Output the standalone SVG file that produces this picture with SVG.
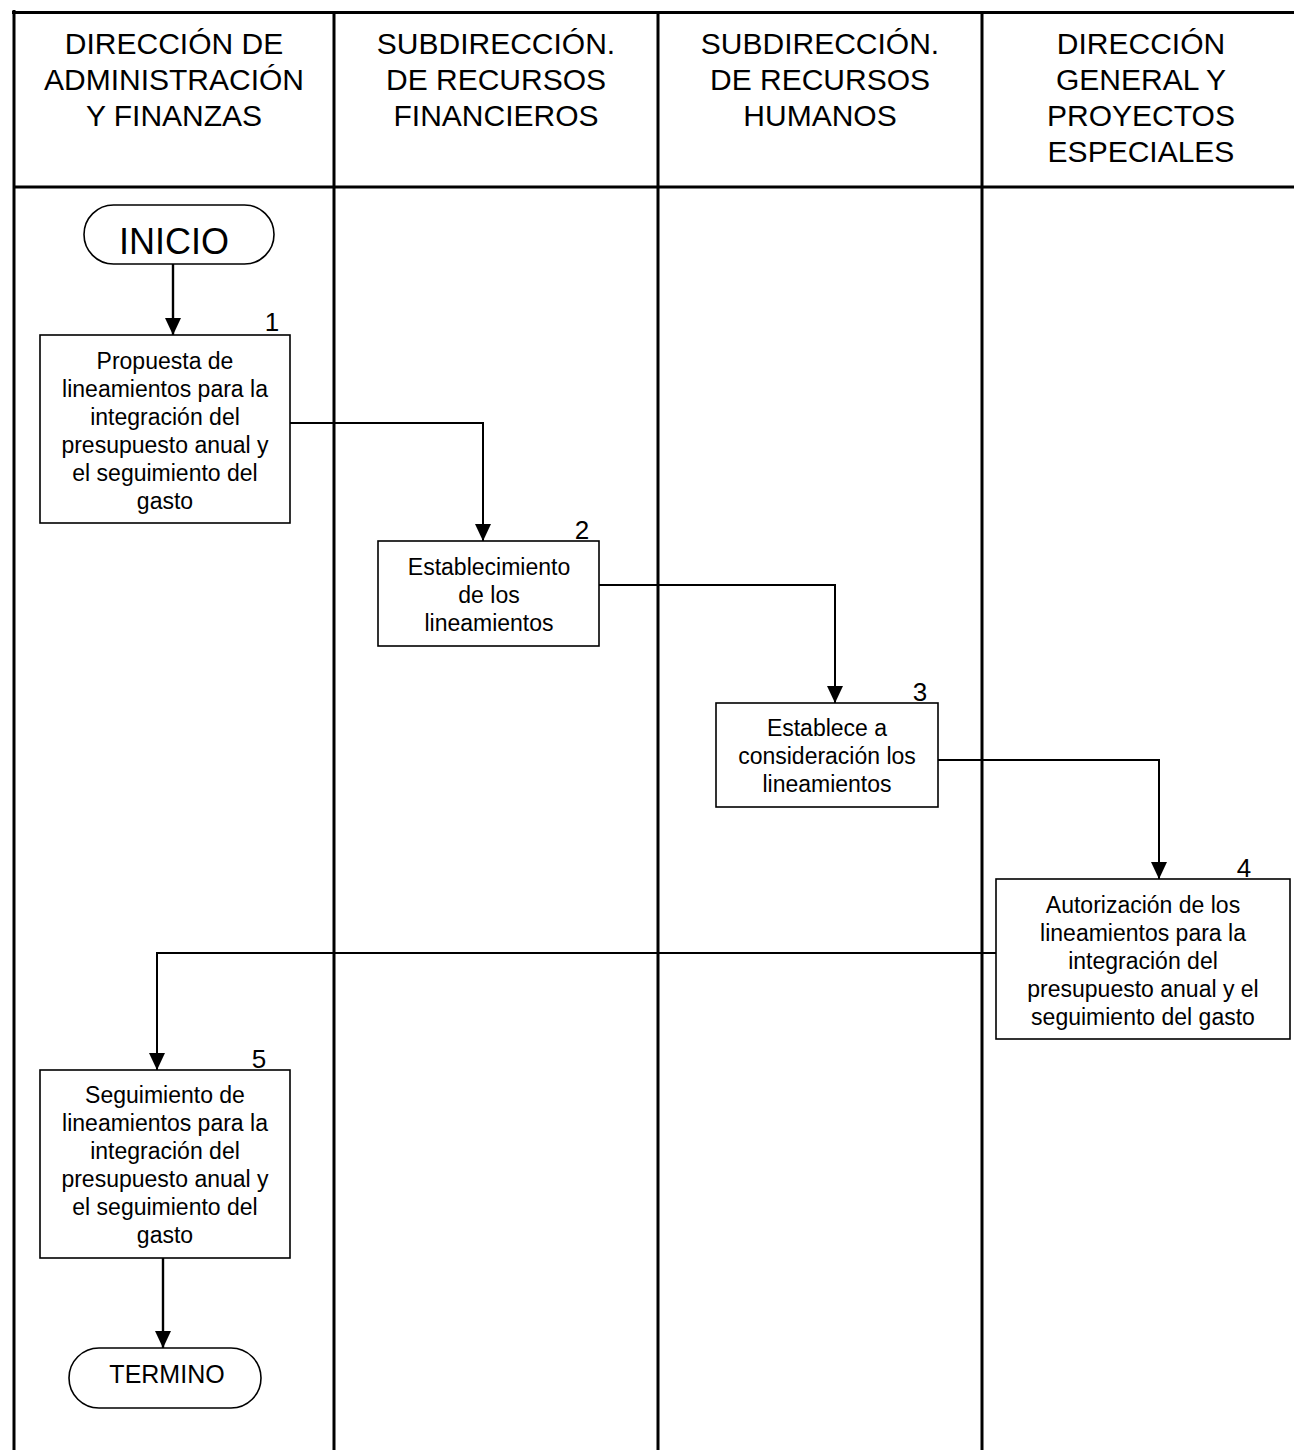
<svg xmlns="http://www.w3.org/2000/svg" width="1294" height="1450" viewBox="0 0 1294 1450">
<style>
text{font-family:"Liberation Sans",Arial,sans-serif;fill:#000;text-anchor:middle}
.hd{font-size:30px}
.bx{font-size:23px}
.num{font-size:26px}
.box{fill:#fff;stroke:#000;stroke-width:1.6}
.term{fill:#fff;stroke:#000;stroke-width:1.6}
.lane{stroke:#000;stroke-width:3;fill:none}
.con{stroke:#000;stroke-width:2;fill:none}
.arr{stroke-width:2.4}
</style>
<defs>
<marker id="ah" markerUnits="userSpaceOnUse" markerWidth="17" markerHeight="16" viewBox="0 0 17 16" refX="17" refY="8" orient="auto">
<path d="M0,0 L17,8 L0,16 Z" fill="#000"/>
</marker>
</defs>
<rect width="1294" height="1450" fill="#fff"/>
<g id="lanes">
<line class="lane" x1="12" y1="12.5" x2="1294" y2="12.5" stroke-width="5"/>
<line class="lane" x1="14" y1="10" x2="14" y2="1450" stroke-width="4"/>
<line class="lane" x1="14" y1="187" x2="1294" y2="187"/>
<line class="lane" x1="334" y1="12" x2="334" y2="1450"/>
<line class="lane" x1="658" y1="12" x2="658" y2="1450"/>
<line class="lane" x1="982" y1="12" x2="982" y2="1450"/>
</g>
<g id="headers">
<text class="hd" x="174" y="54">DIRECCIÓN DE</text>
<text class="hd" x="174" y="90">ADMINISTRACIÓN</text>
<text class="hd" x="174" y="126">Y FINANZAS</text>
<text class="hd" x="496" y="54">SUBDIRECCIÓN.</text>
<text class="hd" x="496" y="90">DE RECURSOS</text>
<text class="hd" x="496" y="126">FINANCIEROS</text>
<text class="hd" x="820" y="54">SUBDIRECCIÓN.</text>
<text class="hd" x="820" y="90">DE RECURSOS</text>
<text class="hd" x="820" y="126">HUMANOS</text>
<text class="hd" x="1141" y="54">DIRECCIÓN</text>
<text class="hd" x="1141" y="90">GENERAL Y</text>
<text class="hd" x="1141" y="126">PROYECTOS</text>
<text class="hd" x="1141" y="162">ESPECIALES</text>
</g>
<g id="connectors">
<line class="con arr" x1="173" y1="264" x2="173" y2="335" marker-end="url(#ah)"/>
<polyline class="con" points="290,423 483,423 483,541" marker-end="url(#ah)"/>
<polyline class="con" points="599,585 835,585 835,703" marker-end="url(#ah)"/>
<polyline class="con" points="938,760 1159,760 1159,879" marker-end="url(#ah)"/>
<polyline class="con" points="996,953 157,953 157,1070" marker-end="url(#ah)"/>
<line class="con arr" x1="163" y1="1258" x2="163" y2="1348" marker-end="url(#ah)"/>
</g>
<g id="inicio">
<rect class="term" x="84" y="205" width="190" height="59" rx="29.5"/>
<text x="174" y="254" style="font-size:36px">INICIO</text>
</g>
<g id="step1">
<rect class="box" x="40" y="335" width="250" height="188"/>
<text class="num" x="272" y="331">1</text>
<text class="bx" x="165" y="369">Propuesta de</text>
<text class="bx" x="165" y="397">lineamientos para la</text>
<text class="bx" x="165" y="425">integración del</text>
<text class="bx" x="165" y="453">presupuesto anual y</text>
<text class="bx" x="165" y="481">el seguimiento del</text>
<text class="bx" x="165" y="509">gasto</text>
</g>
<g id="step2">
<rect class="box" x="378" y="541" width="221" height="105"/>
<text class="num" x="582" y="539">2</text>
<text class="bx" x="489" y="575">Establecimiento</text>
<text class="bx" x="489" y="603">de los</text>
<text class="bx" x="489" y="631">lineamientos</text>
</g>
<g id="step3">
<rect class="box" x="716" y="703" width="222" height="104"/>
<text class="num" x="920" y="701">3</text>
<text class="bx" x="827" y="736">Establece a</text>
<text class="bx" x="827" y="764">consideración los</text>
<text class="bx" x="827" y="792">lineamientos</text>
</g>
<g id="step4">
<rect class="box" x="996" y="879" width="294" height="160"/>
<text class="num" x="1244" y="877">4</text>
<text class="bx" x="1143" y="913">Autorización de los</text>
<text class="bx" x="1143" y="941">lineamientos para la</text>
<text class="bx" x="1143" y="969">integración del</text>
<text class="bx" x="1143" y="997">presupuesto anual y el</text>
<text class="bx" x="1143" y="1025">seguimiento del gasto</text>
</g>
<g id="step5">
<rect class="box" x="40" y="1070" width="250" height="188"/>
<text class="num" x="259" y="1068">5</text>
<text class="bx" x="165" y="1103">Seguimiento de</text>
<text class="bx" x="165" y="1131">lineamientos para la</text>
<text class="bx" x="165" y="1159">integración del</text>
<text class="bx" x="165" y="1187">presupuesto anual y</text>
<text class="bx" x="165" y="1215">el seguimiento del</text>
<text class="bx" x="165" y="1243">gasto</text>
</g>
<g id="termino">
<rect class="term" x="69" y="1348" width="192" height="60" rx="30"/>
<text x="167" y="1383" style="font-size:25px">TERMINO</text>
</g>
</svg>
